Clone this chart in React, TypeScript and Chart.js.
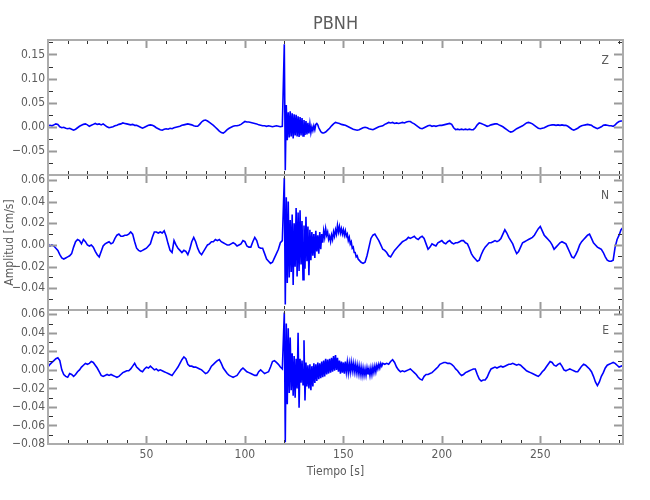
import React, { useEffect, useRef } from "react";
import { Chart, registerables } from "chart.js";

Chart.register(...registerables);

// ---------- data (amplitudes in 10^-3 cm/s) ----------
const X_MIN = 0;
const X_MAX = 292;
const PRE_START = 0; // 1 s samples
const BURST_START = 120; // 0.5 s samples
const BURST_STEP = 0.5;
const Z_POST_START = 140;
const N_POST_START = 158;
const E_POST_START = 170;
const UNIT = 0.001;

const X_TICK_LABELS = [50, 100, 150, 200, 250];

const Z_PRE = [
  2, 3, 2, 4, 6, 5, 0, -2, -1, -3,
  -4, -3, -5, -7, -5, -2, 1, 3, 5, 6,
  4, 1, 3, 5, 7, 5, 6, 4, 6, 3,
  0, -2, -1, 0, 2, 3, 5, 6, 8, 7,
  6, 5, 4, 5, 3, 3, 1, -1, -3, -1,
  1, 3, 4, 3, 1, -2, -4, -6, -7, -5,
  -4, -5, -3, -4, -2, -1, 0, 1, 3, 4,
  5, 6, 5, 4, 2, 1, 1, 5, 10, 13,
  14, 12, 9, 6, 3, -1, -5, -9, -12, -13,
  -10, -6, -3, -1, 1, 2, 2, 3, 5, 8,
  11, 10, 10, 9, 8, 7, 6, 4, 3, 2,
  2, 1, 2, 1, 0, 1, 2, 1, 0, 1,
];
const Z_BURST = [
  171, -90, 45, -28, 30, -22, 32, -20, 28, -24,
  26, -18, 25, -20, 22, -21, 20, -18, 18, -19,
  14, -17, 12, -16, 8, -14, 6, -12, 0, -8,
  2, -6, 5, 7, 4, -2, -6, -10, -12, -13,
];
const Z_POST = [
  -13, -11, -7, -3, 2, 6, 9, 8, 7, 5,
  4, 3, 1, -1, -3, -5, -6, -7, -6, -4,
  -2, -1, -2, -4, -5, -6, -4, -2, 0, 1,
  2, 5, 7, 9, 8, 9, 7, 8, 7, 8,
  9, 8, 10, 11, 11, 8, 6, 3, 0, -3,
  -4, -2, 0, 2, 3, 1, 2, 1, 2, 3,
  3, 4, 5, 6, 7, 5, -2, -6, -5, -6,
  -5, -6, -5, -6, -5, -6, -6, -2, 4, 8,
  7, 5, 3, 1, 2, 4, 5, 6, 6, 4,
  2, 0, -3, -6, -9, -11, -10, -7, -4, -2,
  0, 2, 5, 8, 9, 8, 6, 3, 0, -3,
  -4, -3, -2, 0, 2, 3, 4, 4, 3, 4,
  3, 4, 3, 3, 1, -2, -5, -7, -5, -3,
  0, 2, 3, 4, 5, 4, 3, 0, -2, -4,
  -2, 0, 3, 4, 3, 2, 2, 1, 4, 8,
  11, 12, 12,
];

const N_PRE = [
  1, -1, 0, -1, -3, -5, -9, -12, -13, -12,
  -11, -10, -8, -2, 3, 5, 4, 1, 5, 3,
  0, -1, 0, -2, -6, -9, -11, -6, -1, 1,
  2, 3, 1, 2, 6, 9, 10, 8, 8, 9,
  9, 10, 12, 10, 3, -3, -5, -6, -5, -4,
  -3, -1, 1, 7, 12, 12, 11, 12, 11, 13,
  8, 1, -5, -7, 4, 0, -3, -5, -7, -5,
  -6, -9, -4, 3, 7, 3, -3, -7, -9, -6,
  -3, 0, 1, 3, 3, 5, 4, 5, 3, 2,
  1, 0, 0, 1, 2, 1, -1, 0, 1, 4,
  3, -1, -2, -2, 3, 7, 4, -2, -3, -3,
  -8, -13, -15, -17, -16, -12, -8, -4, 2, 4,
];
const N_BURST = [
  62, -55, 44, -35, 40, -30, 23, -25, 28, -37,
  20, -20, 34, -29, 30, -24, 32, -18, 22, -32,
  18, -22, 26, -15, 17, -28, 14, -14, 12, -10,
  10, -12, 13, -6, 9, -8, 12, -4, 10, 2,
  13, 7, 15, 9, 12, 5, 8, 3, 9, 5,
  12, 8, 14, 10, 18, 12, 17, 11, 15, 10,
  14, 9, 13, 8, 10, 4, 7, 1, 3, -3,
  -2, -7, -7, -11, -10, -13,
];
const N_POST = [
  -14, -16, -17, -16, -10, -2, 6, 9, 10, 7,
  4, 0, -4, -5, -7, -10, -11, -8, -5, -3,
  -1, 1, 3, 4, 5, 7, 6, 7, 8, 6,
  5, 7, 8, 6, 1, -4, -2, 1, 0, -1,
  2, 3, 4, 2, 1, 3, 4, 2, 1, 2,
  2, 3, 4, 4, 2, 1, -3, -8, -11, -13,
  -15, -14, -9, -5, -2, 0, 2, 2, 3, 4,
  3, 4, 6, 10, 14, 11, 7, 4, 1, -4,
  -8, -6, -2, 2, 3, 4, 5, 6, 7, 9,
  12, 15, 17, 13, 9, 7, 5, 3, 0, -4,
  -2, 0, 2, 3, 2, 1, -3, -7, -11, -12,
  -9, -5, 0, 3, 5, 7, 9, 10, 6, 2,
  0, -2, -3, -4, -7, -11, -14, -15, -15, -14,
  -2, 5, 9, 14, 16,
];

const E_PRE = [
  3, 6, 8, 10, 12, 13, 10, 0, -5, -7,
  -8, -4, -5, -7, -5, -2, 0, 3, 5, 7,
  6, 7, 9, 8, 5, 2, -2, -6, -7, -6,
  -5, -6, -5, -6, -7, -8, -7, -5, -3, -2,
  -1, -1, 1, 4, 7, 3, 1, -1, -2, 1,
  3, 2, 4, 2, 0, 1, -1, 0, -1, -2,
  -3, -4, -5, -6, -3, 0, 3, 7, 11, 14,
  12, 6, 4, 4, 3, 3, 2, 1, 0, -2,
  -4, -3, 0, 4, 6, 8, 10, 11, 7, 2,
  -1, -4, -6, -7, -8, -7, -6, -3, 0, 2,
  0, -2, -3, -4, -5, -6, -6, -2, 0, -2,
  -4, -3, -2, 3, 9, 10, 8, 6, 3, 1,
];
const E_BURST = [
  62, -78, 50, -37, 45, -25, 35, -22, 18, -28,
  15, -30, 12, -20, 40, -41, 12, -14, 10, -16,
  32, -33, 8, -18, 5, -20, 6, -22, 4, -18,
  7, -14, 6, -12, 8, -10, 7, -9, 9, -8,
  10, -7, 12, -5, 11, -4, 12, -3, 13, -2,
  15, -1, 16, 0, 13, -2, 10, -4, 9, -3,
  8, -4, 9, -2, 8, -3, 7, -2, 8, -1,
  7, -2, 6, -3, 5, -4, 4, -5, 3, -6,
  2, -6, 1, -6, 2, -5, 1, -6, 2, -5,
  3, -3, 4, -2, 5, 1, 6, 2, 7, 4,
];
const E_POST = [
  7, 6, 7, 6, 9, 11, 8, 3, 0, -2,
  -1, -2, -1, 0, 1, -1, -3, -5, -8, -10,
  -11, -7, -5, -5, -4, -3, -1, 1, 3, 6,
  7, 8, 8, 7, 7, 6, 4, 1, -1, -4,
  -6, -5, -3, -2, -1, 0, 1, 1, -5, -10,
  -12, -11, -11, -8, -3, 1, 2, 3, 2, 3,
  4, 3, 4, 5, 6, 6, 7, 6, 5, 6,
  5, 3, 1, -1, -2, -3, -4, -5, -6, -7,
  -5, -2, 0, 3, 6, 9, 8, 5, 4, 6,
  7, 4, 0, -1, 0, 1, 0, -1, -2, -2,
  1, 4, 6, 5, 3, 1, -2, -7, -13, -17,
  -13, -7, -3, 2, 5, 6, 7, 8, 7, 5,
  3, 4, 5,
];

// ---------- styling ----------
const FONT = "'Liberation Sans Narrow', 'DejaVu Sans Condensed', 'Arial Narrow', 'Liberation Sans', sans-serif";
const TEXT = "#5c5c5c";
const FRAME = "#acacac";
const LINE = "#0000ff";

function buildSeries(pre: number[], burst: number[], postStart: number, post: number[]) {
  const pts: { x: number; y: number }[] = [];
  pre.forEach((v, i) => pts.push({ x: PRE_START + i, y: v * UNIT }));
  burst.forEach((v, i) => pts.push({ x: BURST_START + i * BURST_STEP, y: v * UNIT }));
  post.forEach((v, i) => pts.push({ x: postStart + i, y: v * UNIT }));
  return pts;
}

type PanelCfg = {
  label: string;
  points: { x: number; y: number }[];
  yMin: number;
  yMax: number;
  yMajor: number;
  yMinor: number;
  hideMinLabel: boolean;
  padTop: number;
  padBottom: number;
  showTitle: boolean;
  showYTitle: boolean;
  showX: boolean;
};

const PANELS: PanelCfg[] = [
  {
    label: "Z", points: buildSeries(Z_PRE, Z_BURST, Z_POST_START, Z_POST),
    yMin: -0.1, yMax: 0.18, yMajor: 0.05, yMinor: 0.025, hideMinLabel: true,
    padTop: 0, padBottom: 325, showTitle: true, showYTitle: false, showX: false,
  },
  {
    label: "N", points: buildSeries(N_PRE, N_BURST, N_POST_START, N_POST),
    yMin: -0.06, yMax: 0.0645, yMajor: 0.02, yMinor: 0.01, hideMinLabel: true,
    padTop: 175, padBottom: 190, showTitle: false, showYTitle: true, showX: false,
  },
  {
    label: "E", points: buildSeries(E_PRE, E_BURST, E_POST_START, E_POST),
    yMin: -0.08, yMax: 0.0646, yMajor: 0.02, yMinor: 0.01, hideMinLabel: false,
    padTop: 310, padBottom: 0, showTitle: false, showYTitle: false, showX: true,
  },
];

const frameTicks = {
  id: "frameTicks",
  afterDatasetsDraw(chart: any, _args: any, opts: any) {
    const { ctx, chartArea: a, scales } = chart;
    const xs = scales.x;
    const ys = scales.y;
    ctx.save();
    const tick = (x1: number, y1: number, x2: number, y2: number, major: boolean) => {
      ctx.beginPath();
      ctx.strokeStyle = major ? "#9a9a9a" : "#333333";
      ctx.lineWidth = major ? 2 : 1;
      ctx.moveTo(x1, y1);
      ctx.lineTo(x2, y2);
      ctx.stroke();
    };
    for (let t = X_MIN; t <= X_MAX + 1e-9; t += 10) {
      const px = Math.round(xs.getPixelForValue(t)) + 0.5;
      if (px < a.left + 2 || px > a.right - 2) continue;
      const major = t % 50 === 0;
      const len = major ? 8 : 4;
      tick(px, a.top, px, a.top + len, major);
      tick(px, a.bottom, px, a.bottom - len, major);
    }
    const n = Math.round((opts.yMax - opts.yMin) / opts.yMinor) + 2;
    const start = Math.ceil(opts.yMin / opts.yMinor - 1e-6);
    for (let k = start; k < start + n; k++) {
      const v = k * opts.yMinor;
      if (v > opts.yMax + 1e-9) break;
      const py = Math.round(ys.getPixelForValue(v)) + 0.5;
      if (py < a.top + 2 || py > a.bottom - 2) continue;
      const r = v / opts.yMajor;
      const major = Math.abs(r - Math.round(r)) < 1e-6;
      const len = major ? 9 : 5;
      tick(a.left, py, a.left + len, py, major);
      tick(a.right, py, a.right - len, py, major);
    }
    ctx.strokeStyle = FRAME;
    ctx.lineWidth = 2;
    ctx.strokeRect(a.left, a.top, a.right - a.left, a.bottom - a.top);
    ctx.fillStyle = TEXT;
    ctx.font = `12px ${FONT}`;
    ctx.textAlign = "right";
    ctx.textBaseline = "middle";
    ctx.fillText(opts.label, a.right - 14, a.top + 21);
    ctx.restore();
  },
};

function fmtY(cfg: PanelCfg) {
  return (value: any) => {
    const v = Number(value);
    const r = v / cfg.yMajor;
    if (Math.abs(r - Math.round(r)) > 1e-6) return "";
    if (cfg.hideMinLabel && v <= cfg.yMin + 1e-9) return "";
    const s = Math.abs(v).toFixed(2);
    return v < -1e-9 ? "\u2212" + s : s;
  };
}

function makeConfig(cfg: PanelCfg): any {
  return {
    type: "line",
    data: {
      datasets: [
        {
          data: cfg.points,
          borderColor: LINE,
          borderWidth: 1.6,
          pointRadius: 0,
          tension: 0,
          fill: false,
        },
      ],
    },
    options: {
      animation: false,
      responsive: false,
      maintainAspectRatio: false,
      events: [],
      layout: { padding: { left: 0, right: 27, top: cfg.padTop, bottom: cfg.padBottom } },
      plugins: {
        legend: { display: false },
        tooltip: { enabled: false },
        title: {
          display: cfg.showTitle,
          text: "PBNH",
          fullSize: false,
          color: TEXT,
          font: { family: FONT, size: 18, weight: "normal", lineHeight: 1.2 },
          padding: { top: 13.2, bottom: 5.2 },
        },
        frameTicks: {
          label: cfg.label,
          yMin: cfg.yMin,
          yMax: cfg.yMax,
          yMajor: cfg.yMajor,
          yMinor: cfg.yMinor,
        },
      },
      scales: {
        x: {
          type: "linear",
          min: X_MIN,
          max: X_MAX,
          display: cfg.showX,
          grid: { display: false, drawTicks: false },
          border: { display: false },
          afterFit: (s: any) => {
            if (cfg.showX) s.height = 56;
          },
          ticks: {
            stepSize: 10,
            includeBounds: false,
            autoSkip: false,
            maxRotation: 0,
            padding: 4,
            color: TEXT,
            font: { family: FONT, size: 12 },
            callback: (value: any) => (X_TICK_LABELS.includes(Number(value)) ? String(value) : ""),
          },
          title: {
            display: true,
            text: "Tiempo [s]",
            color: TEXT,
            font: { family: FONT, size: 12 },
            padding: { top: 0, bottom: 21 },
          },
        },
        y: {
          type: "linear",
          position: "left",
          min: cfg.yMin,
          max: cfg.yMax,
          grid: { display: false, drawTicks: false },
          border: { display: false },
          afterFit: (s: any) => {
            s.width = 48;
          },
          ticks: {
            stepSize: cfg.yMinor,
            includeBounds: false,
            autoSkip: false,
            padding: 3,
            color: TEXT,
            font: { family: FONT, size: 12 },
            callback: fmtY(cfg),
          },
          title: {
            display: cfg.showYTitle,
            text: "Amplitud [cm/s]",
            color: TEXT,
            font: { family: FONT, size: 12 },
            padding: { top: 3, bottom: 0 },
          },
        },
      },
    },
    plugins: [frameTicks],
  };
}

function Panel({ cfg }: { cfg: PanelCfg }) {
  const ref = useRef<HTMLCanvasElement | null>(null);
  useEffect(() => {
    if (!ref.current) return;
    const chart = new Chart(ref.current, makeConfig(cfg));
    return () => chart.destroy();
  }, [cfg]);
  return (
    <canvas
      ref={ref}
      width={650}
      height={500}
      style={{ position: "absolute", left: 0, top: 0, width: 650, height: 500 }}
    />
  );
}

export default function App() {
  return (
    <div style={{ position: "fixed", left: 0, top: 0, width: 650, height: 500, background: "#ffffff" }}>
      {PANELS.map((p) => (
        <Panel key={p.label} cfg={p} />
      ))}
    </div>
  );
}
